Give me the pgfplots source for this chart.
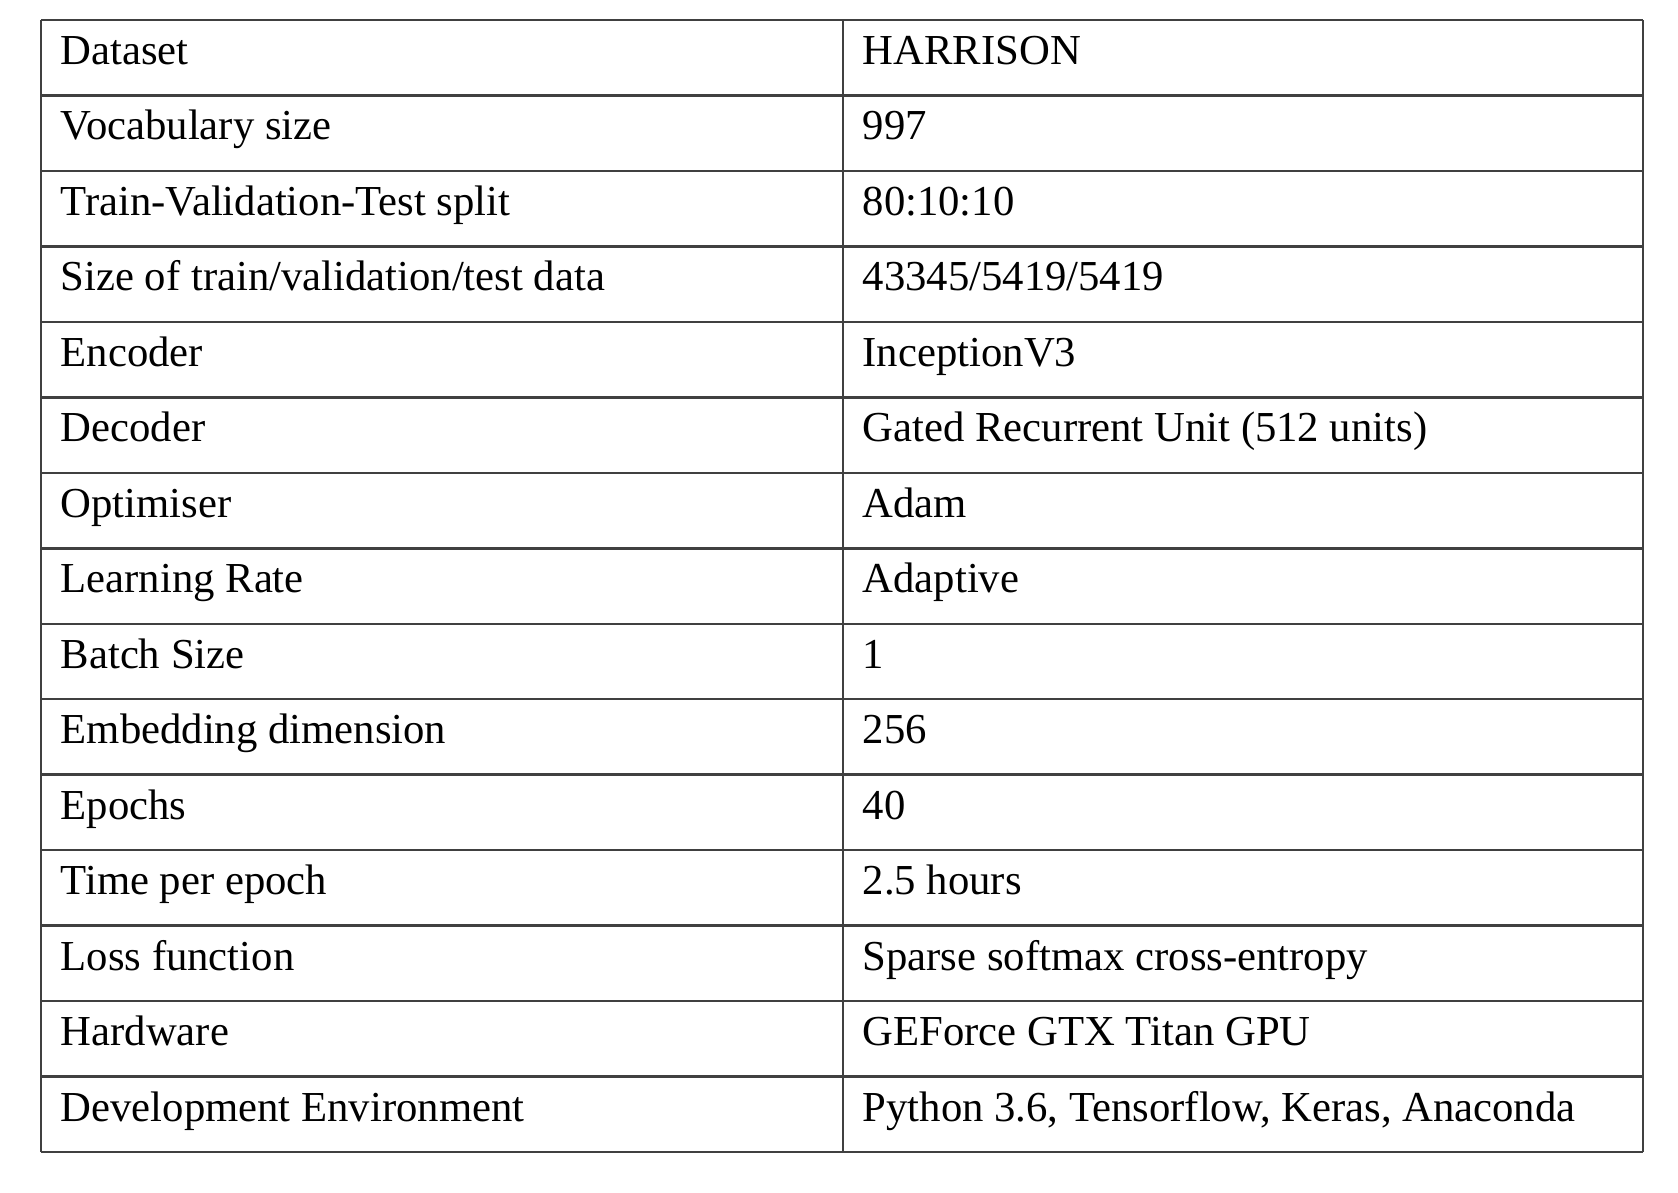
\documentclass[border=0pt]{standalone}
\usepackage{fontspec}
\setmainfont{Liberation Serif}
\usepackage{pgfplots}
\pgfplotsset{compat=1.18}
\begin{document}
\begin{tikzpicture}
\begin{axis}[scale only axis, width=16.78cm, height=11.92cm, xmin=0, xmax=1678, ymin=0, ymax=1192, y dir=reverse, hide axis, clip=false]
\addplot[draw=none] coordinates {(0,0) (1678,1192)};
\pgfplotsinvokeforeach{0,...,15}{
  \addplot[line width=0.7pt, color=black!75] coordinates {(41,20+75.47*#1) (1643,20+75.47*#1)};
}
\addplot[line width=0.7pt, color=black!75] coordinates {(41,20) (41,1152)};
\addplot[line width=0.7pt, color=black!75] coordinates {(843,20) (843,1152)};
\addplot[line width=0.7pt, color=black!75] coordinates {(1643,20) (1643,1152)};
\def\r#1#2#3{\node[anchor=base west, inner sep=0pt, font=\fontsize{12.15}{15}\selectfont] at (axis cs:60,{64.5+75.47*#1}) {#2};
  \node[anchor=base west, inner sep=0pt, font=\fontsize{12.15}{15}\selectfont] at (axis cs:862,{64.5+75.47*#1}) {#3};}
\r{0}{Dataset}{HARRISON}
\r{1}{Vocabulary size}{997}
\r{2}{Train-Validation-Test split}{80:10:10}
\r{3}{Size of train/validation/test data}{43345/5419/5419}
\r{4}{Encoder}{InceptionV3}
\r{5}{Decoder}{Gated Recurrent Unit (512 units)}
\r{6}{Optimiser}{Adam}
\r{7}{Learning Rate}{Adaptive}
\r{8}{Batch Size}{1}
\r{9}{Embedding dimension}{256}
\r{10}{Epochs}{40}
\r{11}{Time per epoch}{2.5 hours}
\r{12}{Loss function}{Sparse softmax cross-entropy}
\r{13}{Hardware}{GEForce GTX Titan GPU}
\r{14}{Development Environment}{Python 3.6, Tensorflow, Keras, Anaconda}
\end{axis}
\end{tikzpicture}
\end{document}
